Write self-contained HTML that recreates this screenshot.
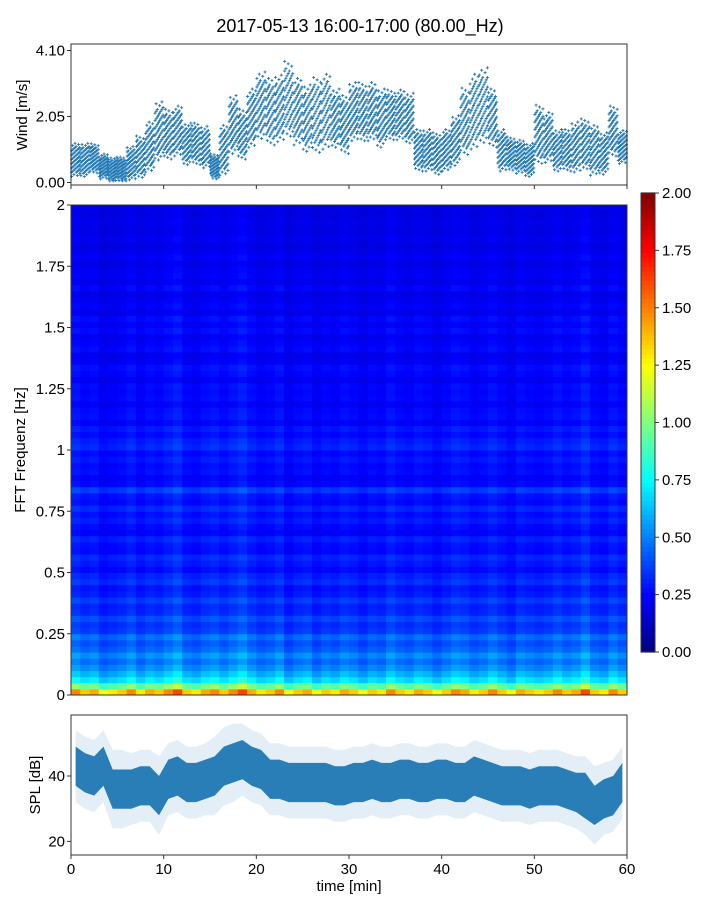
<!DOCTYPE html>
<html><head><meta charset="utf-8">
<style>body{margin:0;background:#fff}svg{display:block;font-family:"Liberation Sans","DejaVu Sans",sans-serif}</style>
</head><body>
<svg id="c" width="720" height="900"></svg>
<script>
// ---- data ----
const windMinutes=[0,1,2,3,4,5,6,7,8,9,10,11,12,13,14,15,16,17,18,19,20,21,22,23,24,25,26,27,28,29,30,31,32,33,34,35,36,37,38,39,40,41,42,43,44,45,46,47,48,49,50,51,52,53,54,55,56,57,58,59];
const windMean=[0.7,0.7,0.75,0.5,0.4,0.4,0.6,0.8,1.1,1.6,1.5,1.6,1.2,1.2,1.1,0.5,1.0,1.8,1.5,2.0,2.4,2.2,2.3,2.6,2.2,2.0,2.1,2.2,2.0,1.8,2.2,2.2,2.2,2.0,2.1,2.1,2.0,1.0,1.0,0.9,1.0,1.3,1.9,2.2,2.4,2.0,1.0,0.9,0.8,0.7,1.5,1.4,1.0,1.0,1.1,1.2,1.0,0.9,1.6,1.1];
const windSpread=[0.4,0.4,0.35,0.3,0.3,0.3,0.4,0.5,0.6,0.7,0.6,0.6,0.5,0.5,0.5,0.3,0.6,0.7,0.6,0.7,0.8,0.8,0.8,0.9,0.8,0.8,0.9,0.9,0.7,0.7,0.7,0.7,0.7,0.7,0.6,0.6,0.6,0.5,0.5,0.5,0.5,0.6,0.8,0.9,0.9,0.7,0.5,0.4,0.4,0.4,0.7,0.6,0.5,0.5,0.6,0.6,0.6,0.5,0.6,0.4];
const splMean=[43,41,40,43,36,36,36,37,37,34,39,40,38,38,39,40,43,44,45,43,42,39,39,38,38,38,38,38,37,37,38,38,39,38,38,39,39,38,38,39,39,38,38,40,39,38,37,37,37,36,37,37,37,36,35,34,31,33,34,38];
const splInner=[6,6,6,6,6,6,6,6,6,6,6,6,6,6,6,6,6,6,6,6,6,6,6,6,6,6,6,6,6,6,6,6,6,6,6,6,6,6,6,6,6,6,6,6,6,6,6,6,6,6,6,6,6,6,6,7,6,6,6,6];
const splOuter=[11,11,11,11,12,12,11,11,11,12,11,11,11,11,11,12,12,12,11,11,11,11,11,11,11,11,11,11,11,11,11,11,11,11,11,11,11,11,11,11,11,11,11,11,11,11,11,11,11,11,11,11,11,11,11,12,12,11,11,11];
const freqLevel=[1.35,0.95,0.7,0.6,0.52,0.46,0.52,0.44,0.4,0.46,0.36,0.34,0.39,0.32,0.31,0.36,0.3,0.28,0.34,0.31,0.26,0.29,0.32,0.26,0.27,0.31,0.24,0.26,0.3,0.27,0.32,0.26,0.28,0.36,0.26,0.24,0.27,0.26,0.29,0.26,0.32,0.3,0.26,0.29,0.24,0.27,0.26,0.23,0.26,0.25,0.26,0.22,0.25,0.27,0.23,0.21,0.26,0.24,0.22,0.26,0.23,0.26,0.21,0.24,0.22,0.2,0.25,0.21,0.23,0.22,0.2,0.23,0.21,0.19,0.22,0.2,0.2,0.21,0.19,0.2];
const timeGain=[1.1,1.0,1.05,0.9,0.95,1.0,1.1,0.95,1.05,1.0,1.1,1.2,1.0,0.95,1.05,1.1,1.0,1.1,1.2,1.05,0.95,1.0,1.1,0.9,1.0,1.05,0.9,1.0,0.95,1.05,1.0,0.9,1.0,0.95,1.1,1.0,0.95,1.05,1.0,0.9,1.0,1.1,1.05,0.95,1.0,1.1,1.0,0.9,1.05,1.0,0.95,1.0,1.1,1.0,1.05,1.2,1.0,0.95,1.1,1.0];
const timeTicks=[0,10,20,30,40,50,60];
const windTicks=[0,2.05,4.1];
const freqTicks=[0,0.25,0.5,0.75,1,1.25,1.5,1.75,2];
const freqTickLabels=["0","0.25","0.5","0.75","1","1.25","1.5","1.75","2"];
const splTicks=[20,40];
const cbTicks=[0,0.25,0.5,0.75,1,1.25,1.5,1.75,2];

const svg=document.getElementById('c');const NS='http://www.w3.org/2000/svg';
function mk(tag,attrs,parent){const e=document.createElementNS(NS,tag);for(const k in attrs)e.setAttribute(k,attrs[k]);(parent||svg).appendChild(e);return e;}
const X0=71,X1=627;
const xT=t=>X0+(X1-X0)*t/60;
const yW=v=>182.5-v*(182.5-50.5)/4.1;
const yF=f=>695-f*245;
const yS=d=>776-(d-40)*3.27;
const yCB=v=>652-v*229.5;
function jet(v){v=Math.max(0,Math.min(1,v));const f=x=>Math.round(255*Math.max(0,Math.min(1,x)));return `rgb(${f(1.5-Math.abs(4*v-3))},${f(1.5-Math.abs(4*v-2))},${f(1.5-Math.abs(4*v-1))})`;}

// title
let t=mk('text',{x:360,y:32,'text-anchor':'middle','font-size':18,fill:'#000'});t.textContent='2017-05-13 16:00-17:00 (80.00_Hz)';



// ---- wind panel ----
const gw=mk('g',{});


const offs=[0,3,1,5,2,6,4];
windMinutes.forEach((m,i)=>{
  for(let k=0;k<8;k++){for(let j=0;j<7;j++){
    const jj=offs[(j+k*3)%7];
    const shift=(((k*5+i)%8)-3.5)/12;
    const v=windMean[i]+windSpread[i]*((jj-3)/3+shift);
    const x=xT(m+(k+0.5)/8), y=yW(Math.max(0.05,v));
    const p=mk('path',{d:`M${x-1.5},${y}h3M${x},${y-1.5}v3`,stroke:'#1f77b4','stroke-width':0.9},gw);
    
    
  }}
});
let r=mk('rect',{x:X0,y:44,width:X1-X0,height:141,fill:'none',stroke:'#333'});

windTicks.forEach((v,i)=>{const y=yW(v);mk('line',{x1:X0-4,x2:X0,y1:y,y2:y,stroke:'#333'});
 const tx=mk('text',{x:X0-6,y:y+5,'text-anchor':'end','font-size':15});tx.textContent=v.toFixed(2);
 });
timeTicks.forEach(v=>{mk('line',{x1:xT(v),x2:xT(v),y1:185,y2:189,stroke:'#333'});});
t=mk('text',{transform:'translate(27,115) rotate(-90)','text-anchor':'middle','font-size':15});t.textContent='Wind [m/s]';


// ---- spectrogram ----
const gs=mk('g',{});


const df=2/freqLevel.length;
freqLevel.forEach((fl,fi)=>{timeGain.forEach((tg,ti)=>{
  const y0=yF((fi+1)*df),y1=yF(fi*df);
  const c=mk('rect',{x:xT(ti),y:y0,width:xT(ti+1)-xT(ti)+0.5,height:y1-y0+0.5,fill:jet((fl*tg)/2)},gs);
  
  
});});
r=mk('rect',{x:X0,y:205,width:X1-X0,height:490,fill:'none',stroke:'#333'});

freqTicks.forEach((v,i)=>{const y=yF(v);mk('line',{x1:X0-4,x2:X0,y1:y,y2:y,stroke:'#333'});
 const tx=mk('text',{x:X0-6,y:y+5,'text-anchor':'end','font-size':15});tx.textContent=freqTickLabels[i];
 });
t=mk('text',{transform:'translate(25,450) rotate(-90)','text-anchor':'middle','font-size':15});t.textContent='FFT Frequenz [Hz]';


// colorbar
const gc=mk('g',{});


for(let i=0;i<100;i++){mk('rect',{x:641,y:yCB((i+1)*0.02)-0.6,width:14,height:5.8,fill:jet((i+0.5)/100)},gc);}
mk('rect',{x:641,y:193,width:14,height:459,fill:'none',stroke:'#333'},gc);
cbTicks.forEach(v=>{const y=yCB(v);mk('line',{x1:655,x2:659,y1:y,y2:y,stroke:'#333'},gc);
 const tx=mk('text',{x:662,y:y+5,'font-size':15},gc);tx.textContent=v.toFixed(2);
 });

// ---- SPL ----
const gp=mk('g',{});


function band(arr,a){let up=[],dn=[];splMean.forEach((m,i)=>{const x=xT(i+0.5);up.push(`${x},${yS(m+arr[i])}`);dn.unshift(`${x},${yS(m-arr[i])}`);});
 const p=mk('polygon',{points:up.concat(dn).join(' '),fill:'#1f77b4','fill-opacity':a},gp);return p;}
let b=band(splOuter,0.12);
b=band(splInner,0.95);
r=mk('rect',{x:X0,y:715,width:X1-X0,height:140,fill:'none',stroke:'#333'});

splTicks.forEach(v=>{const y=yS(v);mk('line',{x1:X0-4,x2:X0,y1:y,y2:y,stroke:'#333'});
 const tx=mk('text',{x:X0-6,y:y+5,'text-anchor':'end','font-size':15});tx.textContent=v;
 });
timeTicks.forEach(v=>{mk('line',{x1:xT(v),x2:xT(v),y1:855,y2:859,stroke:'#333'});
 const tx=mk('text',{x:xT(v),y:874,'text-anchor':'middle','font-size':15});tx.textContent=v;
 });
t=mk('text',{transform:'translate(40,785) rotate(-90)','text-anchor':'middle','font-size':15});t.textContent='SPL [dB]';

t=mk('text',{x:349,y:891,'text-anchor':'middle','font-size':15});t.textContent='time [min]';

</script>
</body></html>
